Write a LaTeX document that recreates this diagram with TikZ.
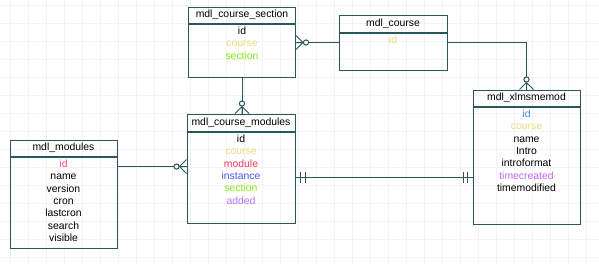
\documentclass[tikz,border=0pt]{standalone}
\usepackage{fontspec}
\setmainfont{Liberation Sans}
\usepackage{xcolor}
\usepackage{tikz}
\usetikzlibrary{positioning, calc}

\definecolor{erteal}{HTML}{2A5757}
\definecolor{gridpink}{HTML}{F6F1F8}
\definecolor{fldyellow}{HTML}{EADB7E}
\definecolor{fldgreen}{HTML}{86E81A}
\definecolor{fldred}{HTML}{F7355A}
\definecolor{fldblue}{HTML}{4A55F5}
\definecolor{fldviolet}{HTML}{B673F7}
\definecolor{fldsky}{HTML}{3A8EF2}
\definecolor{fldpink}{HTML}{F54A9A}
\definecolor{fldmagenta}{HTML}{C365F5}

% crow's foot ends, +x points away from the table
\tikzset{
    zeromany/.pic={
        \draw[draw=erteal, line width=1pt] (0,7) -- (7,0) -- (0,-7) (0,0) -- (7,0);
        \draw[draw=erteal, line width=1pt, fill=white] (10,0) circle (2.6);
    },
    oneone/.pic={
        \draw[draw=erteal, line width=1pt] (5,-5.5) -- (5,5.5) (9.5,-5.5) -- (9.5,5.5);
    }
}

\begin{document}
\begin{tikzpicture}[
    x=1pt, y=1pt,
    every node/.style={font=\fontsize{10.4}{12.4}\selectfont},
    tabhead/.style={rectangle, draw=erteal, line width=1pt, minimum width=107pt,
                    minimum height=16pt, inner sep=0pt},
    tabbody/.style={rectangle, draw=erteal, line width=1pt, minimum width=107pt,
                    inner sep=0pt},
    fields/.style={align=center, inner sep=0pt},
    erline/.style={draw=erteal, line width=1pt},
    gridline/.style={draw=gridpink, line width=0.6pt}
]
    \fill[white] (0,0) rectangle (599,-263);
    \useasboundingbox (0,0) rectangle (599,-263);
    \foreach \gx in {10,28,...,598} \draw[gridline] (\gx,0) -- (\gx,-263);
    \foreach \gy in {5,23,...,262} \draw[gridline] (0,-\gy) -- (599,-\gy);

    % tables
    \node[tabhead] (sech) at (242,-15) {mdl\_course\_section};
    \node[tabbody, minimum height=53pt, below=0pt of sech] (secb) {};
    \node[fields, below=3pt of secb.north] (secf) {id\\ \textcolor{fldyellow}{course}\\ \textcolor{fldgreen}{section}};

    \node[tabhead, minimum width=108pt, minimum height=17pt] (crsh) at (393,-23.5) {mdl\_course};
    \node[tabbody, minimum width=108pt, minimum height=37pt, below=0pt of crsh] (crsb) {};
    \node[fields, below=3pt of crsb.north] (crsf) {\textcolor{fldyellow}{id}};

    \node[tabhead] (xlmh) at (526.5,-98) {mdl\_xlmsmemod};
    \node[tabbody, minimum height=117pt, below=0pt of xlmh] (xlmb) {};
    \node[fields, below=3pt of xlmb.north] (xlmf) {\textcolor{fldsky}{id}\\ \textcolor{fldyellow}{course}\\ name\\ Intro\\ introformat\\ \textcolor{fldmagenta}{timecreated}\\ timemodified};

    \node[tabhead] (modh) at (63.5,-148) {mdl\_modules};
    \node[tabbody, minimum height=91pt, below=0pt of modh] (modb) {};
    \node[fields, below=3pt of modb.north] (modf) {\textcolor{fldpink}{id}\\ name\\ version\\ cron\\ lastcron\\ search\\ visible};

    \node[tabhead, minimum width=108pt, minimum height=17pt] (cmh) at (241,-122.5) {mdl\_course\_modules};
    \node[tabbody, minimum width=108pt, minimum height=91pt, below=0pt of cmh] (cmb) {};
    \node[fields, below=3pt of cmb.north] (cmf) {id\\ \textcolor{fldyellow}{course}\\ \textcolor{fldred}{module}\\ \textcolor{fldblue}{instance}\\ \textcolor{fldgreen}{section}\\ \textcolor{fldviolet}{added}};

    % relations
    \coordinate (secr) at ($(secb.north east)+(0,-19)$);
    \coordinate (crsl) at ($(crsb.north west)+(0,-10)$);
    \coordinate (crsr) at ($(crsb.north east)+(0,-10)$);
    \coordinate (modr) at ($(modb.north east)+(0,-10)$);
    \coordinate (cml) at ($(cmb.north west)+(0,-35)$);
    \coordinate (cmr) at ($(cmb.north east)+(0,-46)$);
    \coordinate (xlml) at ($(xlmb.north west)+(0,-71)$);

    \draw[erline] (secr) -- (crsl);
    \draw[erline] (secb.south) -- (secb.south |- cmh.north);
    \draw[erline] (crsr) -| (xlmh.north);
    \draw[erline] (modr) -- (cml);
    \draw[erline] (cmr) -- (xlml);

    \pic at (secr) {zeromany};
    \pic[rotate=90] at (secb.south |- cmh.north) {zeromany};
    \pic[rotate=90] at (xlmh.north) {zeromany};
    \pic[rotate=180] at (cml) {zeromany};
    \pic at (cmr) {oneone};
    \pic[rotate=180] at (xlml) {oneone};
\end{tikzpicture}
\end{document}
